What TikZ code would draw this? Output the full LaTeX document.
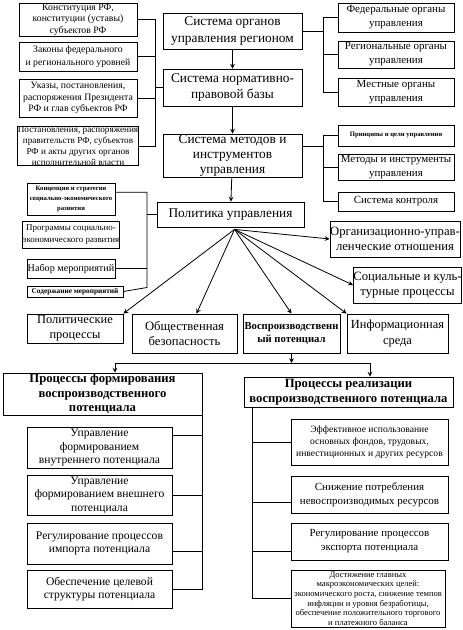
\documentclass[tikz,border=0pt]{standalone}
\usepackage{fontspec}
\setmainfont{Liberation Serif}

\tikzset{
  spot/.style n args={4}{at={({(#1+#3)/2},{(#2+#4)/2})},
    minimum width={(#3-#1)*0.75pt}, minimum height={(#4-#2)*0.75pt}},
  box/.style={draw, inner sep=0pt, align=center},
  bigbox/.style={box, font=\fontsize{10}{12.5}\selectfont},
  midbox/.style={box, font=\fontsize{8.2}{10.5}\selectfont},
  smallbox/.style={box, font=\fontsize{7.3}{8.6}\selectfont},
  tinybox/.style={box, font=\bfseries\fontsize{5}{7.5}\selectfont},
  headbox/.style={box, font=\bfseries\fontsize{9.5}{11}\selectfont},
  lowbox/.style={box, font=\fontsize{8.7}{10.2}\selectfont},
  link/.style={->, >=stealth},
}

\begin{document}
\begin{tikzpicture}[x=0.75pt, y=-0.75pt, line width=0.6pt]
  \useasboundingbox (0,0) rectangle (462,630);

  % legal base
  \node[smallbox, spot={19}{3}{137}{36}] (la1) {Конституция РФ,\\конституции (уставы)\\субъектов РФ};
  \node[smallbox, font=\fontsize{7.3}{10}\selectfont, spot={19}{42}{137}{71}] (la2) {Законы федерального\\и регионального уровней};
  \node[smallbox, spot={19}{79}{137}{117}] (la3) {Указы, постановления,\\распоряжения Президента\\РФ и глав субъектов РФ};
  \node[smallbox, font=\fontsize{6.9}{8.4}\selectfont, spot={19}{127}{137}{165}] (la4) {Постановления, распоряжения\\правительств РФ, субъектов\\РФ и акты других органов\\исполнительной власти};

  % centre column
  \node[bigbox, spot={163}{13}{302}{49}] (ce1) {Система органов\\управления регионом};
  \node[bigbox, spot={163}{69}{302}{106}] (ce2) {Система нормативно-\\правовой базы};
  \node[bigbox, font=\fontsize{10}{11.5}\selectfont, spot={163}{134}{302}{177}] (ce3) {Система методов и\\инструментов\\управления};
  \node[bigbox, spot={157}{202}{304}{227}] (ce4) {Политика управления};

  % right column
  \node[midbox, spot={338}{3}{454}{32}] (ri1) {Федеральные органы\\управления};
  \node[midbox, spot={338}{41}{454}{68}] (ri2) {Региональные органы\\управления};
  \node[midbox, spot={338}{78}{454}{106}] (ri3) {Местные органы\\управления};
  \node[tinybox, spot={338}{125}{454}{146}] (ri4) {Принципы и цели управления};
  \node[midbox, spot={338}{154}{454}{180}] (ri5) {Методы и инструменты\\управления};
  \node[midbox, spot={338}{192}{454}{211}] (ri6) {Система контроля};

  % programmes
  \node[tinybox, spot={27}{183}{115}{215}] (le1) {Концепция и стратегия\\социально-экономического\\развития};
  \node[smallbox, font=\fontsize{6.7}{9.5}\selectfont, spot={27}{221}{115}{248}] (le2) {Программы социально-\\экономического развития};
  \node[midbox, font=\fontsize{7.6}{9}\selectfont, spot={27}{259}{115}{278}] (le3) {Набор мероприятий};
  \node[tinybox, font=\bfseries\fontsize{5.5}{7}\selectfont, spot={27}{286}{123}{297}] (le4) {Содержание мероприятий};

  % spheres
  \node[bigbox, font=\fontsize{9.5}{11}\selectfont, spot={330}{221}{460}{257}] (org) {Организационно-управ-\\ленческие отношения};
  \node[bigbox, font=\fontsize{9.5}{11.5}\selectfont, spot={355}{267}{460}{303}] (soc) {Социальные и куль-\\турные процессы};
  \node[bigbox, font=\fontsize{9.3}{11}\selectfont, spot={27}{314}{123}{343}] (pol) {Политические\\процессы};
  \node[bigbox, font=\fontsize{9.5}{11.5}\selectfont, spot={132}{314}{237}{353}] (obs) {Общественная\\безопасность};
  \node[box, font=\bfseries\fontsize{8}{9.5}\selectfont, spot={243}{314}{340}{353}] (vos) {Воспроизводственн\\ый потенциал};
  \node[bigbox, font=\fontsize{9.3}{11.5}\selectfont, spot={347}{314}{448}{353}] (inf) {Информационная\\среда};

  % formation
  \node[headbox, spot={3}{373}{202}{415}] (fo0) {Процессы формирования\\воспроизводственного\\потенциала};
  \node[lowbox, spot={27}{427}{172}{468}] (fo1) {Управление\\формированием\\внутреннего потенциала};
  \node[lowbox, spot={27}{475}{172}{515}] (fo2) {Управление\\формированием внешнего\\потенциала};
  \node[lowbox, spot={27}{523}{172}{564}] (fo3) {Регулирование процессов\\импорта потенциала};
  \node[lowbox, spot={27}{570}{172}{608}] (fo4) {Обеспечение целевой\\структуры потенциала};

  % realization
  \node[headbox, spot={244}{377}{453}{407}] (re0) {Процессы реализации\\воспроизводственного потенциала};
  \node[smallbox, font=\fontsize{7.2}{9}\selectfont, spot={291}{419}{448}{465}] (re1) {Эффективное использование\\основных фондов, трудовых,\\инвестиционных и других ресурсов};
  \node[midbox, spot={291}{476}{448}{513}] (re2) {Снижение потребления\\невоспроизводимых ресурсов};
  \node[midbox, spot={291}{523}{448}{560}] (re3) {Регулирование процессов\\экспорта потенциала};
  \node[box, font=\fontsize{6.4}{7.2}\selectfont, spot={291}{570}{445}{627}] (re4) {Достижение главных\\макроэкономических целей:\\экономического роста, снижение темпов\\инфляции и уровня безработицы,\\обеспечение положительного торгового\\и платежного баланса};

  % brackets
  \coordinate (lbr) at (155,0);
  \coordinate (rbr) at (323,0);
  \coordinate (mbr) at (147,0);
  \coordinate (rb) at (252,0);
  \draw (la1.east) -- (la1.east -| lbr) -- (la4.east -| lbr) -- (la4.east);
  \draw (la2.east) -- (la2.east -| lbr);
  \draw (la3.east) -- (la3.east -| lbr);
  \draw (ce2.west) -- (ce2.west -| lbr);
  \draw (ri1.west) -- (ri1.west -| rbr) -- (ri3.west -| rbr) -- (ri3.west);
  \draw (ri2.west) -- (ri2.west -| rbr);
  \draw (ce1.east) -- (ce1.east -| rbr);
  \draw (ri4.west) -- (ri4.west -| rbr) -- (ri6.west -| rbr) -- (ri6.west);
  \draw (ri5.west) -- (ri5.west -| rbr);
  \draw ([yshift=7pt]ce3.east) -- ([yshift=7pt]ce3.east -| rbr);
  \draw ([yshift=5pt]le1.east) -- ([yshift=5pt]le1.east -| mbr) -- ([yshift=3pt]le4.east -| mbr) -- (le4.east);
  \draw (le3.east) -- (le3.east -| mbr);
  \draw (ce4.west) -- (ce4.west -| mbr);

  % main chain
  \draw[link] (ce1) -- (ce2);
  \draw[link] (ce2) -- (ce3);
  \draw[link] (ce3) -- (ce4);

  % fan
  \coordinate (fan) at ([xshift=3pt,yshift=-1.5pt]ce4.south);
  \draw[link] (fan) -- (org.west);
  \draw[link] (fan) -- (soc.west);
  \draw[link] (fan) -- (inf.north west);
  \draw[link] (fan) -- (vos.north);
  \draw[link] (fan) -- ([xshift=9pt]obs.north);
  \draw[link] (fan) -- (pol.north east);

  % split
  \coordinate (spl) at (115,363);
  \coordinate (spr) at (370,363);
  \draw[link] (vos.south) -- (vos.south |- spl);
  \draw (spl) -- (spr);
  \draw[link] (spl) -- (spl |- fo0.north);
  \draw[link] (spr) -- (spr |- re0.north);

  \draw (fo0.south east) -- (fo0.south east |- fo4.east) -- (fo4.east);
  \draw ([yshift=9pt]fo1.east) -- ([yshift=9pt]fo1.east -| fo0.east);
  \draw (fo2.east) -- (fo2.east -| fo0.east);
  \draw ([yshift=-6pt]fo3.east) -- ([yshift=-6pt]fo3.east -| fo0.east);
  \draw (rb |- re0.south) -- (rb |- re4.west) -- (re4.west);
  \draw (re1.west) -- (re1.west -| rb);
  \draw ([yshift=-6pt]re2.west) -- ([yshift=-6pt]re2.west -| rb);
  \draw ([yshift=-7.5pt]re3.west) -- ([yshift=-7.5pt]re3.west -| rb);
\end{tikzpicture}
\end{document}
